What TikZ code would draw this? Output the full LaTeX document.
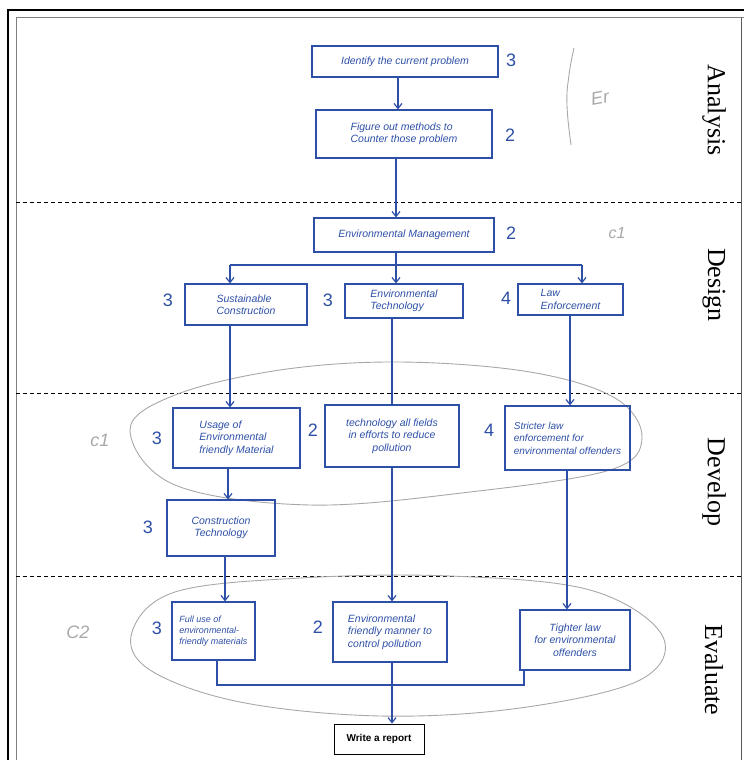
\documentclass[tikz,border=0pt]{standalone}
\usepackage{fontspec}
\setmainfont{Liberation Serif}
\newfontfamily\hwfont{Liberation Sans}
\newfontfamily\prfont{Liberation Sans}
\usetikzlibrary{arrows.meta}
\definecolor{hblue}{HTML}{2D4FA6}
\definecolor{pencil}{HTML}{A8A8A8}
\tikzset{
  hb/.style={draw=hblue, line width=1.2pt, inner sep=0pt, text=hblue, align=center, font=\hwfont\itshape\fontsize{10.5}{12.5}\selectfont},
  num/.style={text=hblue, inner sep=0pt, font=\hwfont\fontsize{18}{18}\selectfont},
  conn/.style={draw=hblue, line width=1.2pt},
  arr/.style={conn, -{Straight Barb[length=5pt,width=8pt]}},
  sep/.style={draw=black, line width=0.8pt, dash pattern=on 4pt off 3pt},
  phase/.style={rotate=-90, inner sep=0pt, font=\fontsize{26}{26}\selectfont},
  pen/.style={draw=pencil, line width=0.9pt},
  pentxt/.style={text=pencil, inner sep=0pt, font=\hwfont\itshape\fontsize{18}{18}\selectfont}
}
\begin{document}
\begin{tikzpicture}[x=1pt,y=-1pt]
\useasboundingbox (0,0) rectangle (744,760);
% frame
\draw[black, line width=1.8pt] (8,760) -- (8,10) -- (744,10);
\draw[gray, line width=1pt] (16,760) -- (16,18) -- (744,18);
\draw[gray!70!black, line width=0.8pt] (741,18) -- (741,760);
% phase separators
\draw[sep] (16,202) -- (741,202);
\draw[sep] (16,393) -- (741,393);
\draw[sep] (16,576) -- (741,576);
% phase labels
\node[phase] (lA) at (714,110) {Analysis};
\node[phase] (lD) at (714,285) {Design};
\node[phase] (lV) at (714,482) {Develop};
\node[phase] (lE) at (714,670) {Evaluate};

% pencil annotations
\draw[pen] plot[smooth, tension=0.8] coordinates {(574,48) (569,75) (567,105) (571,145)};
\node[pentxt, rotate=10] (er) at (600,98) {Er};
\node[pentxt, font=\hwfont\itshape\fontsize{16}{16}\selectfont] (c1a) at (617,233) {c1};
\node[pentxt] (c1b) at (100,440) {c1};
\node[pentxt] (c2) at (78,632) {C2};
\draw[pen] plot[smooth cycle, tension=0.6] coordinates {(130,430) (175,395) (280,370) (400,362) (530,372) (615,398) (642,438) (610,470) (470,492) (310,505) (175,485)};
\draw[pen] plot[smooth cycle, tension=0.6] coordinates {(132,632) (175,592) (300,578) (450,576) (590,590) (662,635) (640,680) (520,708) (380,716) (240,702) (150,670)};

% Analysis
\node[hb, minimum width=186pt, minimum height=31pt] (a1) at (405,61.5) {Identify the current problem};
\node[hb, minimum width=176pt, minimum height=48pt, align=left] (a2) at (404,134) {Figure out methods to\\Counter those problem};
% Design
\node[hb, minimum width=180pt, minimum height=34pt] (d1) at (404,235) {Environmental Management};
\node[hb, minimum width=122pt, minimum height=41pt, align=left] (d2) at (246,304.5) {Sustainable\\Construction};
\node[hb, minimum width=118pt, minimum height=34pt, align=left] (d3) at (404,301) {Environmental\\Technology};
\node[hb, minimum width=105pt, minimum height=31pt, align=left] (d4) at (570.5,299.5) {Law\\Enforcement};
% Develop
\node[hb, minimum width=127pt, minimum height=60pt, align=left] (v1) at (236.5,438) {Usage of\\Environmental\\friendly Material};
\node[hb, minimum width=134pt, minimum height=62pt] (v2) at (392,436) {technology all fields\\in efforts to reduce\\pollution};
\node[hb, minimum width=125pt, minimum height=64pt, align=left, font=\hwfont\itshape\fontsize{10}{12.5}\selectfont] (v3) at (567.5,438) {Stricter law\\enforcement for\\environmental offenders};
\node[hb, minimum width=108pt, minimum height=56pt] (v4) at (221,528) {Construction\\Technology};
% Evaluate
\node[hb, minimum width=83pt, minimum height=58pt, align=left, font=\hwfont\itshape\fontsize{9}{11}\selectfont] (e1) at (213.5,631) {Full use of\\environmental-\\friendly materials};
\node[hb, minimum width=114pt, minimum height=60pt, align=left] (e2) at (390,632) {Environmental\\friendly manner to\\control pollution};
\node[hb, minimum width=110pt, minimum height=60pt] (e3) at (575,640) {Tighter law\\for environmental\\offenders};
\node[draw=black, line width=0.9pt, minimum width=90pt, minimum height=30pt, inner sep=0pt, font=\prfont\bfseries\fontsize{10}{12}\selectfont] (rep) at (379,739) {Write a report};

% numbers
\node[num] (n1) at (511,60) {3};
\node[num] (n2) at (510,135) {2};
\node[num] (n3) at (511,233) {2};
\node[num] (n4) at (168,300) {3};
\node[num] (n5) at (328,300) {3};
\node[num] (n6) at (506,298) {4};
\node[num] (n7) at (157,438) {3};
\node[num] (n8) at (313,430) {2};
\node[num] (n9) at (489,430) {4};
\node[num] (n10) at (148,527) {3};
\node[num] (n11) at (157,628) {3};
\node[num] (n12) at (318,627) {2};

% connectors
\coordinate (bm) at (396,265);
\coordinate (bl) at (230,265);
\coordinate (br) at (582,265);
\draw[arr] (a1.south -| 398,0) -- (a2.north -| 398,0);
\draw[arr] (a2.south -| 396,0) -- (d1.north -| 396,0);
\draw[conn] (d1.south -| bm) -- (bm);
\draw[conn] (bl) -- (br);
\draw[arr] (bl) -- (d2.north -| bl);
\draw[arr] (bm) -- (d3.north -| bm);
\draw[arr] (br) -- (d4.north -| br);
\draw[arr] (d2.south -| 230,0) -- (v1.north -| 230,0);
\draw[conn] (d3.south -| v2.north) -- (v2.north);
\draw[arr] (d4.south -| 570,0) -- (v3.north -| 570,0);
\draw[arr] (v1.south -| 228,0) -- (v4.north -| 228,0);
\draw[arr] (v4.south -| 225,0) -- (e1.north -| 225,0);
\draw[arr] (v2.south) -- (v2.south |- e2.north);
\draw[arr] (v3.south -| 567,0) -- (e3.north -| 567,0);
\coordinate (jl) at (217,685);
\coordinate (jr) at (524,685);
\draw[conn] (e1.south -| jl) -- (jl) -- (jr) -- (e3.south -| jr);
\draw[arr] (e2.south -| 392,0) -- (rep.north -| 392,0);
\end{tikzpicture}
\end{document}
